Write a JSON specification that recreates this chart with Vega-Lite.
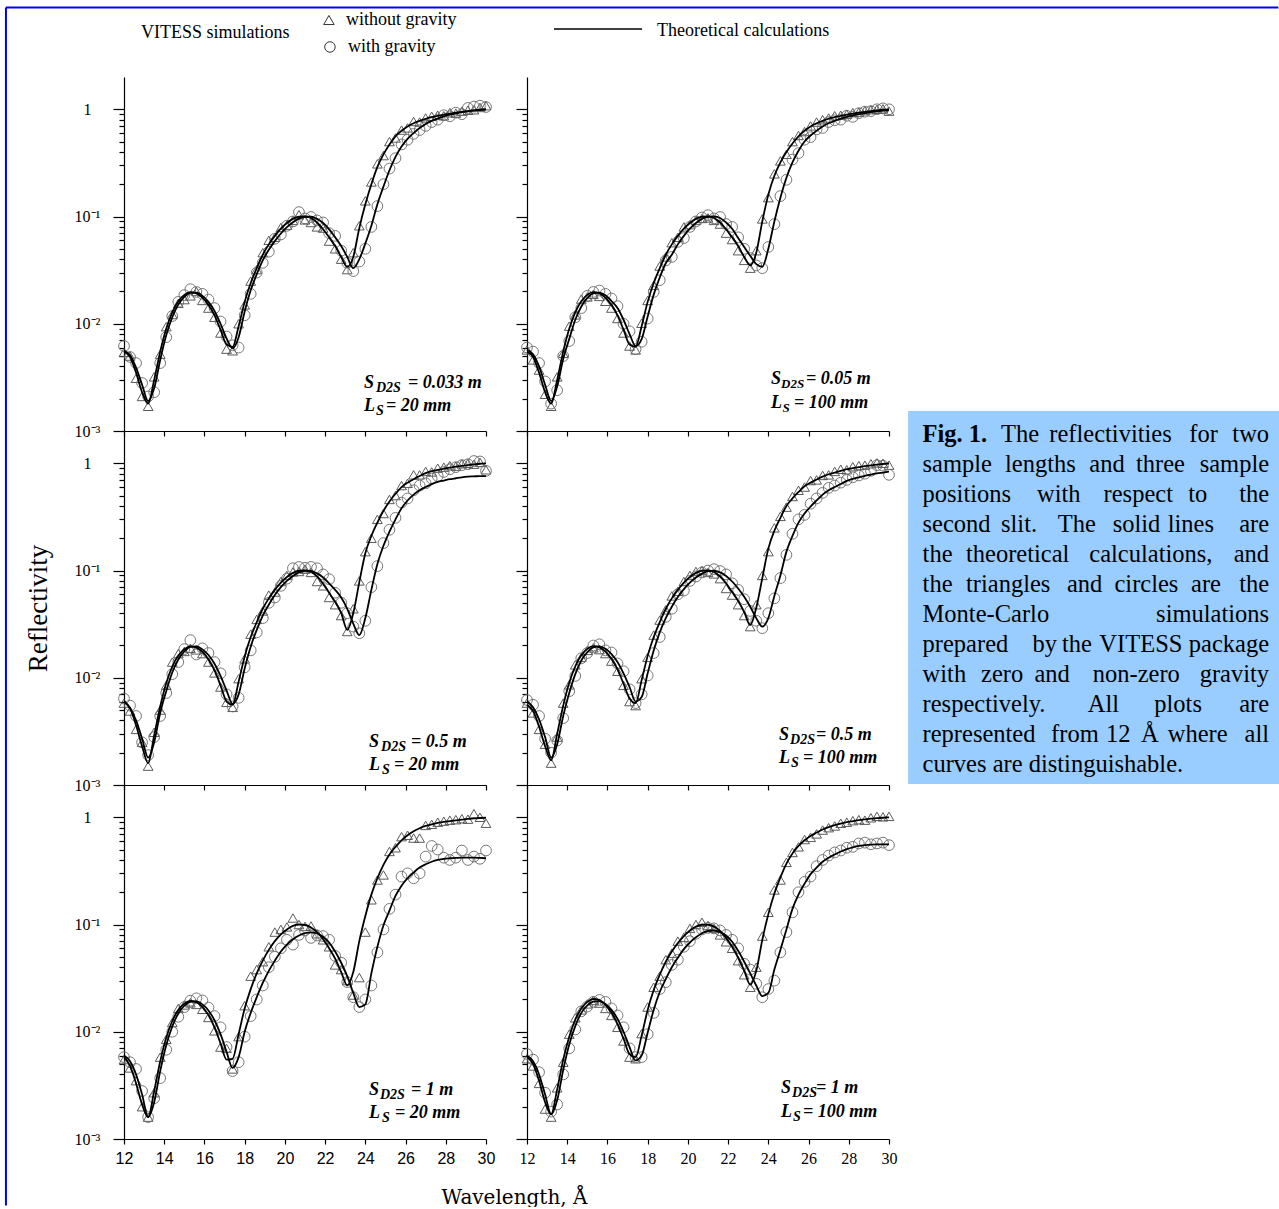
{
"$schema": "https://vega.github.io/schema/vega-lite/v6.json",
"padding": {"left": 4, "top": 6, "right": 0, "bottom": 0},
"background": "white",
"bounds": "flush",
"columns": 2,
"spacing": {"row": 0, "column": 41},
"config": {
  "view": {"stroke": null},
  "font": "Liberation Serif",
  "axis": {"domainColor": "black", "tickColor": "black", "labelColor": "black", "titleColor": "black", "grid": false, "domainWidth": 1.2, "tickWidth": 1.2, "titleFontWeight": "normal", "labelFont": "Liberation Serif", "labelFlush": false, "labelOverlap": false},
  "text": {"font": "Liberation Serif", "color": "black"}
},
"datasets": {
"p1": [
{"x":12.0,"a":0.0055,"b":0.0056,"t":0.0054,"c":0.0062},
{"x":12.3,"a":0.0049,"b":0.0051,"t":0.0050,"c":0.0049},
{"x":12.6,"a":0.0035,"b":0.0039,"t":0.0031,"c":0.0043},
{"x":12.9,"a":0.0023,"b":0.0027,"t":0.0021,"c":0.0028},
{"x":13.2,"a":0.0018,"b":0.0019,"t":0.0017,"c":0.0021},
{"x":13.5,"a":0.0030,"b":0.0025,"t":0.0032,"c":0.0023},
{"x":13.8,"a":0.0055,"b":0.0046,"t":0.0052,"c":0.0043},
{"x":14.1,"a":0.0090,"b":0.0078,"t":0.0094,"c":0.0075},
{"x":14.4,"a":0.0128,"b":0.0115,"t":0.0122,"c":0.0118},
{"x":14.7,"a":0.0162,"b":0.0151,"t":0.0155,"c":0.0160},
{"x":15.0,"a":0.0186,"b":0.0178,"t":0.0168,"c":0.0185},
{"x":15.3,"a":0.0197,"b":0.0194,"t":0.0182,"c":0.0210},
{"x":15.6,"a":0.0192,"b":0.0195,"t":0.0200,"c":0.0198},
{"x":15.9,"a":0.0175,"b":0.0182,"t":0.0165,"c":0.0190},
{"x":16.2,"a":0.0150,"b":0.0160,"t":0.0140,"c":0.0168},
{"x":16.5,"a":0.0120,"b":0.0132,"t":0.0115,"c":0.0140},
{"x":16.8,"a":0.0088,"b":0.0100,"t":0.0082,"c":0.0105},
{"x":17.1,"a":0.0064,"b":0.0073,"t":0.0058,"c":0.0076},
{"x":17.4,"a":0.0061,"b":0.0059,"t":0.0056,"c":0.0063},
{"x":17.7,"a":0.0095,"b":0.0075,"t":0.0100,"c":0.0060},
{"x":18.0,"a":0.0160,"b":0.0130,"t":0.0150,"c":0.0120},
{"x":18.3,"a":0.0240,"b":0.0205,"t":0.0250,"c":0.0190},
{"x":18.6,"a":0.0330,"b":0.0290,"t":0.0320,"c":0.0300},
{"x":18.9,"a":0.0440,"b":0.0390,"t":0.0460,"c":0.0370},
{"x":19.2,"a":0.0550,"b":0.0490,"t":0.0600,"c":0.0470},
{"x":19.5,"a":0.0660,"b":0.0590,"t":0.0640,"c":0.0620},
{"x":19.8,"a":0.0770,"b":0.0695,"t":0.0790,"c":0.0680},
{"x":20.1,"a":0.0870,"b":0.0795,"t":0.0830,"c":0.0820},
{"x":20.4,"a":0.0950,"b":0.0885,"t":0.0920,"c":0.0900},
{"x":20.7,"a":0.0995,"b":0.0955,"t":0.1040,"c":0.1100},
{"x":21.0,"a":0.1000,"b":0.0995,"t":0.0930,"c":0.0960},
{"x":21.3,"a":0.0970,"b":0.0995,"t":0.0880,"c":0.0990},
{"x":21.6,"a":0.0880,"b":0.0950,"t":0.0800,"c":0.0920},
{"x":21.9,"a":0.0760,"b":0.0870,"t":0.0780,"c":0.0880},
{"x":22.2,"a":0.0640,"b":0.0760,"t":0.0590,"c":0.0700},
{"x":22.5,"a":0.0530,"b":0.0640,"t":0.0500,"c":0.0660},
{"x":22.8,"a":0.0420,"b":0.0530,"t":0.0400,"c":0.0480},
{"x":23.1,"a":0.0340,"b":0.0420,"t":0.0320,"c":0.0370},
{"x":23.4,"a":0.0420,"b":0.0330,"t":0.0460,"c":0.0310},
{"x":23.7,"a":0.0780,"b":0.0400,"t":0.0820,"c":0.0380},
{"x":24.0,"a":0.130,"b":0.056,"t":0.140,"c":0.050},
{"x":24.3,"a":0.200,"b":0.082,"t":0.210,"c":0.080},
{"x":24.6,"a":0.290,"b":0.130,"t":0.310,"c":0.125},
{"x":24.9,"a":0.380,"b":0.190,"t":0.370,"c":0.200},
{"x":25.2,"a":0.470,"b":0.270,"t":0.500,"c":0.280},
{"x":25.5,"a":0.560,"b":0.360,"t":0.540,"c":0.350},
{"x":25.8,"a":0.630,"b":0.450,"t":0.640,"c":0.470},
{"x":26.1,"a":0.690,"b":0.530,"t":0.670,"c":0.520},
{"x":26.4,"a":0.740,"b":0.600,"t":0.770,"c":0.590},
{"x":26.7,"a":0.780,"b":0.670,"t":0.760,"c":0.640},
{"x":27.0,"a":0.815,"b":0.730,"t":0.830,"c":0.700},
{"x":27.3,"a":0.845,"b":0.780,"t":0.860,"c":0.760},
{"x":27.6,"a":0.870,"b":0.820,"t":0.880,"c":0.800},
{"x":27.9,"a":0.890,"b":0.860,"t":0.870,"c":0.880},
{"x":28.2,"a":0.910,"b":0.890,"t":0.930,"c":0.860},
{"x":28.5,"a":0.930,"b":0.915,"t":0.920,"c":0.930},
{"x":28.8,"a":0.945,"b":0.940,"t":0.960,"c":0.900},
{"x":29.1,"a":0.960,"b":0.960,"t":0.980,"c":1.030},
{"x":29.4,"a":0.975,"b":0.975,"t":0.990,"c":1.060},
{"x":29.7,"a":0.990,"b":0.990,"t":1.040,"c":1.080},
{"x":30.0,"a":1.000,"b":1.000,"t":1.080,"c":1.050}
],
"p2": [
{"x":12.0,"a":0.0055,"b":0.0057,"t":0.0057,"c":0.0060},
{"x":12.3,"a":0.0049,"b":0.0052,"t":0.0046,"c":0.0055},
{"x":12.6,"a":0.0035,"b":0.0040,"t":0.0037,"c":0.0043},
{"x":12.9,"a":0.0023,"b":0.0027,"t":0.0022,"c":0.0029},
{"x":13.2,"a":0.0018,"b":0.0019,"t":0.0017,"c":0.0018},
{"x":13.5,"a":0.0030,"b":0.0026,"t":0.0032,"c":0.0024},
{"x":13.8,"a":0.0055,"b":0.0047,"t":0.0053,"c":0.0050},
{"x":14.1,"a":0.0090,"b":0.0072,"t":0.0095,"c":0.0069},
{"x":14.4,"a":0.0128,"b":0.0109,"t":0.0121,"c":0.0115},
{"x":14.7,"a":0.0162,"b":0.0145,"t":0.0170,"c":0.0140},
{"x":15.0,"a":0.0186,"b":0.0174,"t":0.0178,"c":0.0182},
{"x":15.3,"a":0.0197,"b":0.0192,"t":0.0188,"c":0.0198},
{"x":15.6,"a":0.0192,"b":0.0195,"t":0.0180,"c":0.0204},
{"x":15.9,"a":0.0175,"b":0.0184,"t":0.0162,"c":0.0190},
{"x":16.2,"a":0.0150,"b":0.0163,"t":0.0140,"c":0.0172},
{"x":16.5,"a":0.0120,"b":0.0140,"t":0.0112,"c":0.0146},
{"x":16.8,"a":0.0088,"b":0.0109,"t":0.0082,"c":0.0100},
{"x":17.1,"a":0.0064,"b":0.0080,"t":0.0062,"c":0.0085},
{"x":17.4,"a":0.0061,"b":0.0062,"t":0.0057,"c":0.0058},
{"x":17.7,"a":0.0095,"b":0.0072,"t":0.0101,"c":0.0068},
{"x":18.0,"a":0.0160,"b":0.0117,"t":0.0165,"c":0.0112},
{"x":18.3,"a":0.0240,"b":0.0187,"t":0.0228,"c":0.0198},
{"x":18.6,"a":0.0330,"b":0.0270,"t":0.0345,"c":0.0255},
{"x":18.9,"a":0.0440,"b":0.0367,"t":0.0420,"c":0.0390},
{"x":19.2,"a":0.0550,"b":0.0440,"t":0.0570,"c":0.0420},
{"x":19.5,"a":0.0660,"b":0.0550,"t":0.0640,"c":0.0580},
{"x":19.8,"a":0.0770,"b":0.0660,"t":0.0800,"c":0.0630},
{"x":20.1,"a":0.0870,"b":0.0770,"t":0.0840,"c":0.0800},
{"x":20.4,"a":0.0950,"b":0.0870,"t":0.0920,"c":0.0900},
{"x":20.7,"a":0.0995,"b":0.0950,"t":0.0960,"c":0.0980},
{"x":21.0,"a":0.1000,"b":0.0995,"t":0.0970,"c":0.1030},
{"x":21.3,"a":0.0970,"b":0.1000,"t":0.0920,"c":0.0960},
{"x":21.6,"a":0.0880,"b":0.0970,"t":0.0850,"c":0.0990},
{"x":21.9,"a":0.0760,"b":0.0880,"t":0.0700,"c":0.0850},
{"x":22.2,"a":0.0640,"b":0.0770,"t":0.0610,"c":0.0800},
{"x":22.5,"a":0.0530,"b":0.0630,"t":0.0480,"c":0.0640},
{"x":22.8,"a":0.0420,"b":0.0520,"t":0.0390,"c":0.0500},
{"x":23.1,"a":0.0350,"b":0.0430,"t":0.0330,"c":0.0410},
{"x":23.4,"a":0.0460,"b":0.0360,"t":0.0480,"c":0.0350},
{"x":23.7,"a":0.0900,"b":0.0340,"t":0.0950,"c":0.0330},
{"x":24.0,"a":0.160,"b":0.050,"t":0.150,"c":0.052},
{"x":24.3,"a":0.240,"b":0.090,"t":0.250,"c":0.085},
{"x":24.6,"a":0.320,"b":0.150,"t":0.330,"c":0.155},
{"x":24.9,"a":0.400,"b":0.230,"t":0.380,"c":0.220},
{"x":25.2,"a":0.480,"b":0.320,"t":0.500,"c":0.340},
{"x":25.5,"a":0.560,"b":0.410,"t":0.570,"c":0.390},
{"x":25.8,"a":0.630,"b":0.500,"t":0.620,"c":0.520},
{"x":26.1,"a":0.690,"b":0.570,"t":0.700,"c":0.550},
{"x":26.4,"a":0.740,"b":0.630,"t":0.760,"c":0.650},
{"x":26.7,"a":0.780,"b":0.690,"t":0.800,"c":0.670},
{"x":27.0,"a":0.820,"b":0.740,"t":0.830,"c":0.760},
{"x":27.3,"a":0.845,"b":0.780,"t":0.870,"c":0.790},
{"x":27.6,"a":0.870,"b":0.820,"t":0.880,"c":0.800},
{"x":27.9,"a":0.890,"b":0.850,"t":0.900,"c":0.870},
{"x":28.2,"a":0.910,"b":0.875,"t":0.930,"c":0.850},
{"x":28.5,"a":0.930,"b":0.900,"t":0.940,"c":0.920},
{"x":28.8,"a":0.945,"b":0.920,"t":0.970,"c":0.950},
{"x":29.1,"a":0.960,"b":0.940,"t":0.990,"c":0.960},
{"x":29.4,"a":0.975,"b":0.955,"t":1.000,"c":1.000},
{"x":29.7,"a":0.990,"b":0.970,"t":1.010,"c":1.020},
{"x":30.0,"a":1.000,"b":0.980,"t":0.960,"c":1.000}
],
"p3": [
{"x":12.0,"a":0.0060,"b":0.0060,"t":0.0058,"c":0.0064},
{"x":12.3,"a":0.0052,"b":0.0052,"t":0.0049,"c":0.0055},
{"x":12.6,"a":0.0036,"b":0.0040,"t":0.0033,"c":0.0044},
{"x":12.9,"a":0.0023,"b":0.0027,"t":0.0025,"c":0.0025},
{"x":13.2,"a":0.0016,"b":0.0018,"t":0.0015,"c":0.0019},
{"x":13.5,"a":0.0029,"b":0.0025,"t":0.0031,"c":0.0028},
{"x":13.8,"a":0.0054,"b":0.0047,"t":0.0050,"c":0.0044},
{"x":14.1,"a":0.0089,"b":0.0075,"t":0.0085,"c":0.0072},
{"x":14.4,"a":0.0127,"b":0.0112,"t":0.0140,"c":0.0108},
{"x":14.7,"a":0.0161,"b":0.0148,"t":0.0168,"c":0.0140},
{"x":15.0,"a":0.0185,"b":0.0176,"t":0.0176,"c":0.0185},
{"x":15.3,"a":0.0196,"b":0.0194,"t":0.0188,"c":0.0224},
{"x":15.6,"a":0.0191,"b":0.0196,"t":0.0182,"c":0.0165},
{"x":15.9,"a":0.0174,"b":0.0184,"t":0.0168,"c":0.0188},
{"x":16.2,"a":0.0148,"b":0.0163,"t":0.0140,"c":0.0170},
{"x":16.5,"a":0.0117,"b":0.0135,"t":0.0111,"c":0.0140},
{"x":16.8,"a":0.0085,"b":0.0104,"t":0.0082,"c":0.0110},
{"x":17.1,"a":0.0060,"b":0.0076,"t":0.0059,"c":0.0070},
{"x":17.4,"a":0.0056,"b":0.0057,"t":0.0053,"c":0.0054},
{"x":17.7,"a":0.0092,"b":0.0070,"t":0.0098,"c":0.0065},
{"x":18.0,"a":0.0158,"b":0.0122,"t":0.0150,"c":0.0125},
{"x":18.3,"a":0.0240,"b":0.0195,"t":0.0255,"c":0.0180},
{"x":18.6,"a":0.0330,"b":0.0280,"t":0.0350,"c":0.0265},
{"x":18.9,"a":0.0440,"b":0.0380,"t":0.0420,"c":0.0360},
{"x":19.2,"a":0.0550,"b":0.0480,"t":0.0590,"c":0.0500},
{"x":19.5,"a":0.0660,"b":0.0590,"t":0.0630,"c":0.0560},
{"x":19.8,"a":0.0770,"b":0.0700,"t":0.0790,"c":0.0720},
{"x":20.1,"a":0.0870,"b":0.0800,"t":0.0900,"c":0.0840},
{"x":20.4,"a":0.0950,"b":0.0890,"t":0.0970,"c":0.1050},
{"x":20.7,"a":0.0995,"b":0.0960,"t":0.0980,"c":0.1080},
{"x":21.0,"a":0.1000,"b":0.0995,"t":0.1030,"c":0.1060},
{"x":21.3,"a":0.0970,"b":0.0990,"t":0.0960,"c":0.1080},
{"x":21.6,"a":0.0880,"b":0.0940,"t":0.0790,"c":0.1050},
{"x":21.9,"a":0.0750,"b":0.0860,"t":0.0720,"c":0.0920},
{"x":22.2,"a":0.0620,"b":0.0760,"t":0.0560,"c":0.0830},
{"x":22.5,"a":0.0510,"b":0.0660,"t":0.0480,"c":0.0620},
{"x":22.8,"a":0.0400,"b":0.0560,"t":0.0380,"c":0.0500},
{"x":23.1,"a":0.0280,"b":0.0440,"t":0.0270,"c":0.0400},
{"x":23.4,"a":0.0400,"b":0.0320,"t":0.0440,"c":0.0300},
{"x":23.7,"a":0.0780,"b":0.0250,"t":0.0800,"c":0.0260},
{"x":24.0,"a":0.145,"b":0.036,"t":0.150,"c":0.034},
{"x":24.3,"a":0.210,"b":0.066,"t":0.200,"c":0.070},
{"x":24.6,"a":0.280,"b":0.115,"t":0.300,"c":0.110},
{"x":24.9,"a":0.360,"b":0.170,"t":0.340,"c":0.180},
{"x":25.2,"a":0.440,"b":0.230,"t":0.460,"c":0.240},
{"x":25.5,"a":0.520,"b":0.300,"t":0.500,"c":0.310},
{"x":25.8,"a":0.600,"b":0.380,"t":0.620,"c":0.430},
{"x":26.1,"a":0.660,"b":0.450,"t":0.650,"c":0.470},
{"x":26.4,"a":0.710,"b":0.510,"t":0.780,"c":0.560},
{"x":26.7,"a":0.760,"b":0.560,"t":0.780,"c":0.620},
{"x":27.0,"a":0.810,"b":0.600,"t":0.840,"c":0.650},
{"x":27.3,"a":0.845,"b":0.640,"t":0.830,"c":0.720},
{"x":27.6,"a":0.870,"b":0.670,"t":0.900,"c":0.760},
{"x":27.9,"a":0.890,"b":0.690,"t":0.920,"c":0.830},
{"x":28.2,"a":0.910,"b":0.710,"t":0.950,"c":0.880},
{"x":28.5,"a":0.930,"b":0.725,"t":0.940,"c":0.920},
{"x":28.8,"a":0.945,"b":0.740,"t":0.990,"c":0.960},
{"x":29.1,"a":0.960,"b":0.750,"t":1.000,"c":0.980},
{"x":29.4,"a":0.975,"b":0.755,"t":0.980,"c":1.050},
{"x":29.7,"a":0.990,"b":0.760,"t":1.020,"c":1.040},
{"x":30.0,"a":1.000,"b":0.760,"t":0.870,"c":0.850}
],
"p4": [
{"x":12.0,"a":0.0056,"b":0.0060,"t":0.0058,"c":0.0062},
{"x":12.3,"a":0.0049,"b":0.0053,"t":0.0047,"c":0.0056},
{"x":12.6,"a":0.0035,"b":0.0041,"t":0.0033,"c":0.0044},
{"x":12.9,"a":0.0023,"b":0.0028,"t":0.0024,"c":0.0027},
{"x":13.2,"a":0.0017,"b":0.0018,"t":0.0016,"c":0.0020},
{"x":13.5,"a":0.0030,"b":0.0024,"t":0.0028,"c":0.0026},
{"x":13.8,"a":0.0055,"b":0.0044,"t":0.0058,"c":0.0042},
{"x":14.1,"a":0.0090,"b":0.0072,"t":0.0086,"c":0.0075},
{"x":14.4,"a":0.0128,"b":0.0108,"t":0.0132,"c":0.0104},
{"x":14.7,"a":0.0162,"b":0.0145,"t":0.0155,"c":0.0152},
{"x":15.0,"a":0.0186,"b":0.0173,"t":0.0180,"c":0.0170},
{"x":15.3,"a":0.0197,"b":0.0192,"t":0.0190,"c":0.0200},
{"x":15.6,"a":0.0192,"b":0.0196,"t":0.0183,"c":0.0205},
{"x":15.9,"a":0.0175,"b":0.0186,"t":0.0168,"c":0.0180},
{"x":16.2,"a":0.0150,"b":0.0166,"t":0.0143,"c":0.0172},
{"x":16.5,"a":0.0120,"b":0.0140,"t":0.0115,"c":0.0136},
{"x":16.8,"a":0.0088,"b":0.0110,"t":0.0085,"c":0.0115},
{"x":17.1,"a":0.0064,"b":0.0082,"t":0.0060,"c":0.0078},
{"x":17.4,"a":0.0058,"b":0.0060,"t":0.0055,"c":0.0058},
{"x":17.7,"a":0.0095,"b":0.0066,"t":0.0098,"c":0.0070},
{"x":18.0,"a":0.0160,"b":0.0110,"t":0.0155,"c":0.0105},
{"x":18.3,"a":0.0240,"b":0.0180,"t":0.0250,"c":0.0170},
{"x":18.6,"a":0.0330,"b":0.0265,"t":0.0345,"c":0.0240},
{"x":18.9,"a":0.0440,"b":0.0360,"t":0.0430,"c":0.0370},
{"x":19.2,"a":0.0550,"b":0.0460,"t":0.0580,"c":0.0440},
{"x":19.5,"a":0.0660,"b":0.0565,"t":0.0640,"c":0.0600},
{"x":19.8,"a":0.0770,"b":0.0670,"t":0.0790,"c":0.0650},
{"x":20.1,"a":0.0870,"b":0.0770,"t":0.0900,"c":0.0800},
{"x":20.4,"a":0.0950,"b":0.0860,"t":0.0980,"c":0.0880},
{"x":20.7,"a":0.0995,"b":0.0935,"t":0.1000,"c":0.0960},
{"x":21.0,"a":0.1000,"b":0.0985,"t":0.0960,"c":0.1000},
{"x":21.3,"a":0.0970,"b":0.0995,"t":0.0930,"c":0.1030},
{"x":21.6,"a":0.0880,"b":0.0960,"t":0.0840,"c":0.0990},
{"x":21.9,"a":0.0760,"b":0.0890,"t":0.0680,"c":0.0920},
{"x":22.2,"a":0.0630,"b":0.0790,"t":0.0590,"c":0.0760},
{"x":22.5,"a":0.0520,"b":0.0680,"t":0.0480,"c":0.0660},
{"x":22.8,"a":0.0410,"b":0.0570,"t":0.0380,"c":0.0540},
{"x":23.1,"a":0.0310,"b":0.0460,"t":0.0300,"c":0.0420},
{"x":23.4,"a":0.0450,"b":0.0360,"t":0.0480,"c":0.0340},
{"x":23.7,"a":0.0850,"b":0.0300,"t":0.0900,"c":0.0290},
{"x":24.0,"a":0.160,"b":0.036,"t":0.150,"c":0.040},
{"x":24.3,"a":0.235,"b":0.058,"t":0.250,"c":0.055},
{"x":24.6,"a":0.310,"b":0.090,"t":0.320,"c":0.085},
{"x":24.9,"a":0.400,"b":0.150,"t":0.390,"c":0.140},
{"x":25.2,"a":0.470,"b":0.210,"t":0.490,"c":0.220},
{"x":25.5,"a":0.540,"b":0.280,"t":0.560,"c":0.300},
{"x":25.8,"a":0.610,"b":0.340,"t":0.600,"c":0.330},
{"x":26.1,"a":0.660,"b":0.395,"t":0.690,"c":0.420},
{"x":26.4,"a":0.705,"b":0.450,"t":0.700,"c":0.470},
{"x":26.7,"a":0.750,"b":0.510,"t":0.770,"c":0.530},
{"x":27.0,"a":0.790,"b":0.560,"t":0.780,"c":0.590},
{"x":27.3,"a":0.820,"b":0.600,"t":0.840,"c":0.620},
{"x":27.6,"a":0.850,"b":0.640,"t":0.880,"c":0.660},
{"x":27.9,"a":0.880,"b":0.685,"t":0.870,"c":0.700},
{"x":28.2,"a":0.900,"b":0.715,"t":0.930,"c":0.740},
{"x":28.5,"a":0.920,"b":0.740,"t":0.950,"c":0.770},
{"x":28.8,"a":0.940,"b":0.765,"t":0.960,"c":0.800},
{"x":29.1,"a":0.955,"b":0.785,"t":0.990,"c":0.850},
{"x":29.4,"a":0.970,"b":0.805,"t":1.010,"c":0.960},
{"x":29.7,"a":0.985,"b":0.820,"t":1.000,"c":0.950},
{"x":30.0,"a":1.000,"b":0.836,"t":0.960,"c":0.780}
],
"p5": [
{"x":12.0,"a":0.0058,"b":0.0060,"t":0.0055,"c":0.0058},
{"x":12.3,"a":0.0048,"b":0.0053,"t":0.0046,"c":0.0052},
{"x":12.6,"a":0.0033,"b":0.0040,"t":0.0035,"c":0.0045},
{"x":12.9,"a":0.0021,"b":0.0026,"t":0.0020,"c":0.0028},
{"x":13.2,"a":0.0016,"b":0.0016,"t":0.0016,"c":0.0016},
{"x":13.5,"a":0.0028,"b":0.0022,"t":0.0027,"c":0.0024},
{"x":13.8,"a":0.0053,"b":0.0043,"t":0.0058,"c":0.0037},
{"x":14.1,"a":0.0088,"b":0.0075,"t":0.0085,"c":0.0068},
{"x":14.4,"a":0.0126,"b":0.0112,"t":0.0122,"c":0.0100},
{"x":14.7,"a":0.0160,"b":0.0148,"t":0.0165,"c":0.0138},
{"x":15.0,"a":0.0183,"b":0.0175,"t":0.0178,"c":0.0170},
{"x":15.3,"a":0.0194,"b":0.0190,"t":0.0186,"c":0.0195},
{"x":15.6,"a":0.0189,"b":0.0192,"t":0.0180,"c":0.0205},
{"x":15.9,"a":0.0170,"b":0.0180,"t":0.0162,"c":0.0196},
{"x":16.2,"a":0.0143,"b":0.0158,"t":0.0136,"c":0.0168},
{"x":16.5,"a":0.0110,"b":0.0128,"t":0.0102,"c":0.0140},
{"x":16.8,"a":0.0078,"b":0.0095,"t":0.0072,"c":0.0110},
{"x":17.1,"a":0.0055,"b":0.0065,"t":0.0070,"c":0.0072},
{"x":17.4,"a":0.0056,"b":0.0046,"t":0.0045,"c":0.0043},
{"x":17.7,"a":0.0095,"b":0.0058,"t":0.0090,"c":0.0052},
{"x":18.0,"a":0.0165,"b":0.0100,"t":0.0175,"c":0.0090},
{"x":18.3,"a":0.0250,"b":0.0150,"t":0.0330,"c":0.0140},
{"x":18.6,"a":0.0350,"b":0.0210,"t":0.0380,"c":0.0200},
{"x":18.9,"a":0.0460,"b":0.0285,"t":0.0450,"c":0.0270},
{"x":19.2,"a":0.0580,"b":0.0370,"t":0.0620,"c":0.0400},
{"x":19.5,"a":0.0700,"b":0.0460,"t":0.0850,"c":0.0500},
{"x":19.8,"a":0.0810,"b":0.0560,"t":0.0900,"c":0.0600},
{"x":20.1,"a":0.0900,"b":0.0650,"t":0.0950,"c":0.0720},
{"x":20.4,"a":0.0970,"b":0.0730,"t":0.1150,"c":0.0650},
{"x":20.7,"a":0.1000,"b":0.0790,"t":0.1000,"c":0.0800},
{"x":21.0,"a":0.0990,"b":0.0830,"t":0.0960,"c":0.0880},
{"x":21.3,"a":0.0940,"b":0.0845,"t":0.0970,"c":0.0750},
{"x":21.6,"a":0.0850,"b":0.0825,"t":0.0820,"c":0.0790},
{"x":21.9,"a":0.0730,"b":0.0770,"t":0.0720,"c":0.0780},
{"x":22.2,"a":0.0600,"b":0.0680,"t":0.0620,"c":0.0720},
{"x":22.5,"a":0.0480,"b":0.0560,"t":0.0420,"c":0.0510},
{"x":22.8,"a":0.0360,"b":0.0440,"t":0.0380,"c":0.0440},
{"x":23.1,"a":0.0270,"b":0.0330,"t":0.0300,"c":0.0290},
{"x":23.4,"a":0.0360,"b":0.0230,"t":0.0220,"c":0.0210},
{"x":23.7,"a":0.0700,"b":0.0170,"t":0.0320,"c":0.0170},
{"x":24.0,"a":0.120,"b":0.018,"t":0.085,"c":0.020},
{"x":24.3,"a":0.190,"b":0.035,"t":0.170,"c":0.027},
{"x":24.6,"a":0.270,"b":0.062,"t":0.260,"c":0.055},
{"x":24.9,"a":0.360,"b":0.098,"t":0.290,"c":0.090},
{"x":25.2,"a":0.450,"b":0.135,"t":0.480,"c":0.140},
{"x":25.5,"a":0.530,"b":0.185,"t":0.520,"c":0.190},
{"x":25.8,"a":0.610,"b":0.230,"t":0.660,"c":0.280},
{"x":26.1,"a":0.680,"b":0.270,"t":0.680,"c":0.300},
{"x":26.4,"a":0.740,"b":0.305,"t":0.640,"c":0.270},
{"x":26.7,"a":0.790,"b":0.340,"t":0.640,"c":0.300},
{"x":27.0,"a":0.830,"b":0.365,"t":0.840,"c":0.430},
{"x":27.3,"a":0.860,"b":0.385,"t":0.860,"c":0.540},
{"x":27.6,"a":0.885,"b":0.400,"t":0.900,"c":0.500},
{"x":27.9,"a":0.905,"b":0.410,"t":0.920,"c":0.420},
{"x":28.2,"a":0.920,"b":0.415,"t":0.940,"c":0.400},
{"x":28.5,"a":0.935,"b":0.418,"t":0.950,"c":0.420},
{"x":28.8,"a":0.950,"b":0.420,"t":0.970,"c":0.490},
{"x":29.1,"a":0.965,"b":0.420,"t":0.960,"c":0.400},
{"x":29.4,"a":0.975,"b":0.420,"t":1.080,"c":0.430},
{"x":29.7,"a":0.985,"b":0.418,"t":1.000,"c":0.410},
{"x":30.0,"a":0.990,"b":0.415,"t":0.880,"c":0.490}
],
"p6": [
{"x":12.0,"a":0.0058,"b":0.0060,"t":0.0056,"c":0.0062},
{"x":12.3,"a":0.0050,"b":0.0053,"t":0.0048,"c":0.0055},
{"x":12.6,"a":0.0035,"b":0.0040,"t":0.0033,"c":0.0042},
{"x":12.9,"a":0.0022,"b":0.0026,"t":0.0019,"c":0.0027},
{"x":13.2,"a":0.0017,"b":0.0017,"t":0.0016,"c":0.0018},
{"x":13.5,"a":0.0029,"b":0.0023,"t":0.0030,"c":0.0021},
{"x":13.8,"a":0.0055,"b":0.0044,"t":0.0052,"c":0.0040},
{"x":14.1,"a":0.0090,"b":0.0076,"t":0.0095,"c":0.0070},
{"x":14.4,"a":0.0130,"b":0.0113,"t":0.0135,"c":0.0105},
{"x":14.7,"a":0.0165,"b":0.0150,"t":0.0160,"c":0.0155},
{"x":15.0,"a":0.0190,"b":0.0176,"t":0.0182,"c":0.0172},
{"x":15.3,"a":0.0202,"b":0.0191,"t":0.0196,"c":0.0190},
{"x":15.6,"a":0.0197,"b":0.0193,"t":0.0185,"c":0.0198},
{"x":15.9,"a":0.0178,"b":0.0182,"t":0.0165,"c":0.0190},
{"x":16.2,"a":0.0150,"b":0.0160,"t":0.0142,"c":0.0165},
{"x":16.5,"a":0.0118,"b":0.0132,"t":0.0110,"c":0.0142},
{"x":16.8,"a":0.0086,"b":0.0100,"t":0.0082,"c":0.0110},
{"x":17.1,"a":0.0062,"b":0.0072,"t":0.0058,"c":0.0070},
{"x":17.4,"a":0.0058,"b":0.0054,"t":0.0056,"c":0.0058},
{"x":17.7,"a":0.0092,"b":0.0060,"t":0.0096,"c":0.0058},
{"x":18.0,"a":0.0160,"b":0.0098,"t":0.0170,"c":0.0095},
{"x":18.3,"a":0.0245,"b":0.0160,"t":0.0260,"c":0.0150},
{"x":18.6,"a":0.0340,"b":0.0235,"t":0.0330,"c":0.0250},
{"x":18.9,"a":0.0450,"b":0.0310,"t":0.0470,"c":0.0290},
{"x":19.2,"a":0.0560,"b":0.0400,"t":0.0540,"c":0.0420},
{"x":19.5,"a":0.0670,"b":0.0490,"t":0.0700,"c":0.0470},
{"x":19.8,"a":0.0780,"b":0.0590,"t":0.0760,"c":0.0620},
{"x":20.1,"a":0.0880,"b":0.0680,"t":0.0920,"c":0.0700},
{"x":20.4,"a":0.0955,"b":0.0760,"t":0.1000,"c":0.0820},
{"x":20.7,"a":0.0995,"b":0.0830,"t":0.1050,"c":0.0900},
{"x":21.0,"a":0.0995,"b":0.0870,"t":0.0980,"c":0.0930},
{"x":21.3,"a":0.0955,"b":0.0880,"t":0.0920,"c":0.0920},
{"x":21.6,"a":0.0870,"b":0.0850,"t":0.0800,"c":0.0880},
{"x":21.9,"a":0.0750,"b":0.0790,"t":0.0690,"c":0.0800},
{"x":22.2,"a":0.0620,"b":0.0690,"t":0.0600,"c":0.0720},
{"x":22.5,"a":0.0490,"b":0.0570,"t":0.0460,"c":0.0600},
{"x":22.8,"a":0.0370,"b":0.0450,"t":0.0340,"c":0.0430},
{"x":23.1,"a":0.0275,"b":0.0350,"t":0.0260,"c":0.0380},
{"x":23.4,"a":0.0370,"b":0.0270,"t":0.0400,"c":0.0280},
{"x":23.7,"a":0.0720,"b":0.0215,"t":0.0780,"c":0.0210},
{"x":24.0,"a":0.125,"b":0.023,"t":0.130,"c":0.025},
{"x":24.3,"a":0.195,"b":0.038,"t":0.210,"c":0.030},
{"x":24.6,"a":0.275,"b":0.058,"t":0.260,"c":0.055},
{"x":24.9,"a":0.370,"b":0.090,"t":0.380,"c":0.085},
{"x":25.2,"a":0.460,"b":0.140,"t":0.470,"c":0.130},
{"x":25.5,"a":0.540,"b":0.190,"t":0.530,"c":0.200},
{"x":25.8,"a":0.610,"b":0.240,"t":0.620,"c":0.250},
{"x":26.1,"a":0.670,"b":0.295,"t":0.650,"c":0.280},
{"x":26.4,"a":0.720,"b":0.340,"t":0.700,"c":0.350},
{"x":26.7,"a":0.770,"b":0.385,"t":0.760,"c":0.400},
{"x":27.0,"a":0.810,"b":0.420,"t":0.800,"c":0.440},
{"x":27.3,"a":0.845,"b":0.450,"t":0.830,"c":0.470},
{"x":27.6,"a":0.875,"b":0.480,"t":0.880,"c":0.490},
{"x":27.9,"a":0.900,"b":0.505,"t":0.900,"c":0.520},
{"x":28.2,"a":0.920,"b":0.525,"t":0.930,"c":0.530},
{"x":28.5,"a":0.940,"b":0.540,"t":0.950,"c":0.570},
{"x":28.8,"a":0.955,"b":0.550,"t":0.940,"c":0.580},
{"x":29.1,"a":0.970,"b":0.557,"t":0.990,"c":0.560},
{"x":29.4,"a":0.980,"b":0.560,"t":1.020,"c":0.570},
{"x":29.7,"a":0.990,"b":0.560,"t":1.010,"c":0.580},
{"x":30.0,"a":1.000,"b":0.560,"t":1.020,"c":0.550}
]
},
"concat": [
{
 "width": 362, "height": 354,
 "resolve": {"axis": {"y": "independent"}},
 "encoding": {"x": {"field": "x", "type": "quantitative", "scale": {"domain": [12, 30], "nice": false, "zero": false}, "axis": {"orient": "bottom", "values": [12,14,16,18,20,22,24,26,28,30], "labels": false, "tickSize": 5, "title": null}}},
 "layer": [
  {"data": {"name": "p1"}, "mark": {"type": "point", "shape": "triangle-up", "filled": false, "stroke": "#4a4a4a", "strokeWidth": 1, "size": 95, "opacity": 0.9},
   "encoding": {
    "y": {"field": "t", "type": "quantitative", "scale": {"type": "log", "domain": [0.001, 2], "nice": false}, "axis": {"orient": "left", "values": [0.001,0.01,0.1,1], "tickSize": 11, "labelExpr": "datum.value > 0.5 ? '1' : datum.value > 0.05 ? '10⁻¹' : datum.value > 0.005 ? '10⁻²' : '10⁻³'", "labelAlign": "center", "labelBaseline": "middle", "labelPadding": 26, "labelFontSize": 16, "title": null}}}},
  {"data": {"name": "p1"}, "mark": {"type": "point", "shape": "circle", "filled": false, "stroke": "#6a6a6a", "strokeWidth": 1, "size": 115, "opacity": 0.9},
   "encoding": {
    "y": {"field": "c", "type": "quantitative", "scale": {"type": "log", "domain": [0.001, 2], "nice": false}, "axis": {"orient": "left", "values": [0.002,0.003,0.004,0.005,0.006,0.007,0.008,0.009,0.02,0.03,0.04,0.05,0.06,0.07,0.08,0.09,0.2,0.3,0.4,0.5,0.6,0.7,0.8,0.9], "tickSize": 5, "labels": false, "domain": false, "title": null}}}},
  {"data": {"name": "p1"}, "mark": {"type": "line", "color": "black", "strokeWidth": 1.8, "interpolate": "monotone"},
   "encoding": {"y": {"field": "a", "type": "quantitative", "scale": {"type": "log", "domain": [0.001, 2], "nice": false}, "axis": null}}},
  {"data": {"name": "p1"}, "mark": {"type": "line", "color": "black", "strokeWidth": 1.8, "interpolate": "monotone"},
   "encoding": {"y": {"field": "b", "type": "quantitative", "scale": {"type": "log", "domain": [0.001, 2], "nice": false}, "axis": null}}},
  {"data": {"values": [{"x": 23.93, "y": 0.00281, "txt": "S"}, {"x": 26.12, "y": 0.00281, "txt": "= 0.033 m"}, {"x": 23.93, "y": 0.00171, "txt": "L"}, {"x": 25.03, "y": 0.00171, "txt": "= 20 mm"}]},
   "mark": {"type": "text", "align": "left", "baseline": "middle", "fontSize": 18, "fontStyle": "italic", "fontWeight": "bold"},
   "encoding": {
    "y": {"field": "y", "type": "quantitative", "scale": {"type": "log", "domain": [0.001, 2], "nice": false}, "axis": null},
    "text": {"field": "txt"}}},
  {"data": {"values": [{"x": 24.53, "y": 0.00281, "txt": "D2S"}, {"x": 24.53, "y": 0.00171, "txt": "S"}]},
   "mark": {"type": "text", "align": "left", "baseline": "middle", "fontSize": 14, "fontStyle": "italic", "fontWeight": "bold", "dy": 5},
   "encoding": {
    "y": {"field": "y", "type": "quantitative", "scale": {"type": "log", "domain": [0.001, 2], "nice": false}, "axis": null},
    "text": {"field": "txt"}}},
  {"data": {"values": [{"x": 12.85, "y": 5.14, "txt": "VITESS simulations"}, {"x": 23.04, "y": 6.80, "txt": "without gravity"}, {"x": 23.14, "y": 3.81, "txt": "with gravity"}, {"x": 38.5, "y": 5.37, "txt": "Theoretical calculations"}]},
   "mark": {"type": "text", "align": "left", "baseline": "middle", "fontSize": 18},
   "encoding": {
    "y": {"field": "y", "type": "quantitative", "scale": {"type": "log", "domain": [0.001, 2], "nice": false}, "axis": null},
    "text": {"field": "txt"}}},
  {"data": {"values": [{"x": 22.19, "y": 6.80, "sym": "triangle-up"}, {"x": 22.24, "y": 3.81, "sym": "circle"}]},
   "mark": {"type": "point", "filled": false, "stroke": "#333333", "strokeWidth": 1, "size": 110, "opacity": 1},
   "encoding": {
    "y": {"field": "y", "type": "quantitative", "scale": {"type": "log", "domain": [0.001, 2], "nice": false}, "axis": null},
    "shape": {"field": "sym", "type": "nominal", "scale": null}}},
  {"data": {"values": [{"x": 33.38, "x2": 37.76, "y": 5.61}]},
   "mark": {"type": "rule", "color": "black", "strokeWidth": 1.5},
   "encoding": {
    "x2": {"field": "x2"},
    "y": {"field": "y", "type": "quantitative", "scale": {"type": "log", "domain": [0.001, 2], "nice": false}, "axis": null}}},
  {"data": {"values": [{"x": 6.13, "x2": 6.13, "y": 8.89, "y2": 6e-11}, {"x": 6.13, "x2": 69.4, "y": 8.89, "y2": 8.89}]},
   "mark": {"type": "rule", "color": "#0000FF", "strokeWidth": 2},
   "encoding": {
    "x2": {"field": "x2"},
    "y": {"field": "y", "type": "quantitative", "scale": {"type": "log", "domain": [0.001, 2], "nice": false}, "axis": null},
    "y2": {"field": "y2"}}}
 ]
},
{
 "width": 362, "height": 354,
 "resolve": {"axis": {"y": "independent"}},
 "encoding": {"x": {"field": "x", "type": "quantitative", "scale": {"domain": [12, 30], "nice": false, "zero": false}, "axis": {"orient": "bottom", "values": [12,14,16,18,20,22,24,26,28,30], "labels": false, "tickSize": 5, "title": null}}},
 "layer": [
  {"data": {"name": "p2"}, "mark": {"type": "point", "shape": "triangle-up", "filled": false, "stroke": "#4a4a4a", "strokeWidth": 1, "size": 95, "opacity": 0.9},
   "encoding": {
    "y": {"field": "t", "type": "quantitative", "scale": {"type": "log", "domain": [0.001, 2], "nice": false}, "axis": {"orient": "left", "values": [0.001,0.01,0.1,1], "tickSize": 11, "labels": false, "title": null}}}},
  {"data": {"name": "p2"}, "mark": {"type": "point", "shape": "circle", "filled": false, "stroke": "#6a6a6a", "strokeWidth": 1, "size": 115, "opacity": 0.9},
   "encoding": {
    "y": {"field": "c", "type": "quantitative", "scale": {"type": "log", "domain": [0.001, 2], "nice": false}, "axis": {"orient": "left", "values": [0.002,0.003,0.004,0.005,0.006,0.007,0.008,0.009,0.02,0.03,0.04,0.05,0.06,0.07,0.08,0.09,0.2,0.3,0.4,0.5,0.6,0.7,0.8,0.9], "tickSize": 5, "labels": false, "domain": false, "title": null}}}},
  {"data": {"name": "p2"}, "mark": {"type": "line", "color": "black", "strokeWidth": 1.8, "interpolate": "monotone"},
   "encoding": {"y": {"field": "a", "type": "quantitative", "scale": {"type": "log", "domain": [0.001, 2], "nice": false}, "axis": null}}},
  {"data": {"name": "p2"}, "mark": {"type": "line", "color": "black", "strokeWidth": 1.8, "interpolate": "monotone"},
   "encoding": {"y": {"field": "b", "type": "quantitative", "scale": {"type": "log", "domain": [0.001, 2], "nice": false}, "axis": null}}},
  {"data": {"values": [{"x": 24.13, "y": 0.00306, "txt": "S"}, {"x": 25.87, "y": 0.00306, "txt": "= 0.05 m"}, {"x": 24.13, "y": 0.00183, "txt": "L"}, {"x": 25.28, "y": 0.00183, "txt": "= 100 mm"}]},
   "mark": {"type": "text", "align": "left", "baseline": "middle", "fontSize": 18, "fontStyle": "italic", "fontWeight": "bold"},
   "encoding": {
    "y": {"field": "y", "type": "quantitative", "scale": {"type": "log", "domain": [0.001, 2], "nice": false}, "axis": null},
    "text": {"field": "txt"}}},
  {"data": {"values": [{"x": 24.63, "y": 0.00306, "txt": "D2S"}, {"x": 24.70, "y": 0.00183, "txt": "S"}]},
   "mark": {"type": "text", "align": "left", "baseline": "middle", "fontSize": 13, "fontStyle": "italic", "fontWeight": "bold", "dy": 5},
   "encoding": {
    "y": {"field": "y", "type": "quantitative", "scale": {"type": "log", "domain": [0.001, 2], "nice": false}, "axis": null},
    "text": {"field": "txt"}}}
 ]
},
{
 "width": 362, "height": 354,
 "resolve": {"axis": {"y": "independent"}},
 "encoding": {"x": {"field": "x", "type": "quantitative", "scale": {"domain": [12, 30], "nice": false, "zero": false}, "axis": {"orient": "bottom", "values": [12,14,16,18,20,22,24,26,28,30], "labels": false, "tickSize": 5, "title": null}}},
 "layer": [
  {"data": {"name": "p3"}, "mark": {"type": "point", "shape": "triangle-up", "filled": false, "stroke": "#4a4a4a", "strokeWidth": 1, "size": 95, "opacity": 0.9},
   "encoding": {
    "y": {"field": "t", "type": "quantitative", "scale": {"type": "log", "domain": [0.001, 2], "nice": false}, "axis": {"orient": "left", "values": [0.001,0.01,0.1,1], "tickSize": 11, "labelExpr": "datum.value > 0.5 ? '1' : datum.value > 0.05 ? '10⁻¹' : datum.value > 0.005 ? '10⁻²' : '10⁻³'", "labelAlign": "center", "labelBaseline": "middle", "labelPadding": 26, "labelFontSize": 16, "title": "Reflectivity", "titleFont": "Liberation Serif", "titleFontSize": 27, "titleX": -86, "titleY": 177, "titleAngle": 270, "titleBaseline": "middle", "titleAlign": "center"}}}},
  {"data": {"name": "p3"}, "mark": {"type": "point", "shape": "circle", "filled": false, "stroke": "#6a6a6a", "strokeWidth": 1, "size": 115, "opacity": 0.9},
   "encoding": {
    "y": {"field": "c", "type": "quantitative", "scale": {"type": "log", "domain": [0.001, 2], "nice": false}, "axis": {"orient": "left", "values": [0.002,0.003,0.004,0.005,0.006,0.007,0.008,0.009,0.02,0.03,0.04,0.05,0.06,0.07,0.08,0.09,0.2,0.3,0.4,0.5,0.6,0.7,0.8,0.9], "tickSize": 5, "labels": false, "domain": false, "title": null}}}},
  {"data": {"name": "p3"}, "mark": {"type": "line", "color": "black", "strokeWidth": 1.8, "interpolate": "monotone"},
   "encoding": {"y": {"field": "a", "type": "quantitative", "scale": {"type": "log", "domain": [0.001, 2], "nice": false}, "axis": null}}},
  {"data": {"name": "p3"}, "mark": {"type": "line", "color": "black", "strokeWidth": 1.8, "interpolate": "monotone"},
   "encoding": {"y": {"field": "b", "type": "quantitative", "scale": {"type": "log", "domain": [0.001, 2], "nice": false}, "axis": null}}},
  {"data": {"values": [{"x": 24.18, "y": 0.00252, "txt": "S"}, {"x": 26.27, "y": 0.00252, "txt": "= 0.5 m"}, {"x": 24.18, "y": 0.00154, "txt": "L"}, {"x": 25.43, "y": 0.00154, "txt": "= 20 mm"}]},
   "mark": {"type": "text", "align": "left", "baseline": "middle", "fontSize": 18, "fontStyle": "italic", "fontWeight": "bold"},
   "encoding": {
    "y": {"field": "y", "type": "quantitative", "scale": {"type": "log", "domain": [0.001, 2], "nice": false}, "axis": null},
    "text": {"field": "txt"}}},
  {"data": {"values": [{"x": 24.78, "y": 0.00252, "txt": "D2S"}, {"x": 24.83, "y": 0.00154, "txt": "S"}]},
   "mark": {"type": "text", "align": "left", "baseline": "middle", "fontSize": 14, "fontStyle": "italic", "fontWeight": "bold", "dy": 5},
   "encoding": {
    "y": {"field": "y", "type": "quantitative", "scale": {"type": "log", "domain": [0.001, 2], "nice": false}, "axis": null},
    "text": {"field": "txt"}}}
 ]
},
{
 "width": 362, "height": 354,
 "resolve": {"scale": {"y": "independent"}, "axis": {"y": "independent"}},
 "encoding": {"x": {"field": "x", "type": "quantitative", "scale": {"domain": [12, 30], "nice": false, "zero": false}, "axis": {"orient": "bottom", "values": [12,14,16,18,20,22,24,26,28,30], "labels": false, "tickSize": 5, "title": null}}},
 "layer": [
  {"data": {"values": [{"x": 30.95, "x2": 49.4, "line": 0.2, "line2": 12.63}]},
   "mark": {"type": "rect", "color": "#99CCFF"},
   "encoding": {
    "x2": {"field": "x2"},
    "y": {"field": "line", "type": "quantitative", "scale": {"domain": [0.8667, 12.6667], "reverse": true, "nice": false, "zero": false}, "axis": null},
    "y2": {"field": "line2"}}},
  {"data": {"values": [
    {"x": 35.57, "line": 1, "txt": "The"}, {"x": 37.97, "line": 1, "txt": "reflectivities"}, {"x": 44.93, "line": 1, "txt": "for"},
    {"x": 31.67, "line": 2, "txt": "sample"}, {"x": 35.77, "line": 2, "txt": "lengths"}, {"x": 39.96, "line": 2, "txt": "and"}, {"x": 42.28, "line": 2, "txt": "three"},
    {"x": 31.67, "line": 3, "txt": "positions"}, {"x": 37.36, "line": 3, "txt": "with"}, {"x": 40.67, "line": 3, "txt": "respect"}, {"x": 44.88, "line": 3, "txt": "to"},
    {"x": 31.67, "line": 4, "txt": "second"}, {"x": 35.57, "line": 4, "txt": "slit."}, {"x": 38.39, "line": 4, "txt": "The"}, {"x": 41.12, "line": 4, "txt": "solid"}, {"x": 43.86, "line": 4, "txt": "lines"},
    {"x": 31.67, "line": 5, "txt": "the"}, {"x": 33.83, "line": 5, "txt": "theoretical"}, {"x": 39.96, "line": 5, "txt": "calculations,"},
    {"x": 31.67, "line": 6, "txt": "the"}, {"x": 33.83, "line": 6, "txt": "triangles"}, {"x": 38.85, "line": 6, "txt": "and"}, {"x": 41.21, "line": 6, "txt": "circles"}, {"x": 45.02, "line": 6, "txt": "are"},
    {"x": 31.67, "line": 7, "txt": "Monte-Carlo"},
    {"x": 31.67, "line": 8, "txt": "prepared"}, {"x": 37.14, "line": 8, "txt": "by"}, {"x": 38.60, "line": 8, "txt": "the"}, {"x": 40.46, "line": 8, "txt": "VITESS"},
    {"x": 31.67, "line": 9, "txt": "with"}, {"x": 34.58, "line": 9, "txt": "zero"}, {"x": 37.23, "line": 9, "txt": "and"}, {"x": 40.13, "line": 9, "txt": "non-zero"},
    {"x": 31.67, "line": 10, "txt": "respectively."}, {"x": 39.88, "line": 10, "txt": "All"}, {"x": 43.19, "line": 10, "txt": "plots"},
    {"x": 31.67, "line": 11, "txt": "represented"}, {"x": 38.06, "line": 11, "txt": "from"}, {"x": 40.79, "line": 11, "txt": "12"}, {"x": 42.53, "line": 11, "txt": "Å"}, {"x": 43.86, "line": 11, "txt": "where"},
    {"x": 31.67, "line": 12, "txt": "curves are distinguishable."}
   ]},
   "mark": {"type": "text", "align": "left", "baseline": "middle", "fontSize": 24.5},
   "encoding": {
    "y": {"field": "line", "type": "quantitative", "scale": {"domain": [0.8667, 12.6667], "reverse": true, "nice": false, "zero": false}, "axis": null},
    "text": {"field": "txt"}}},
  {"data": {"values": [
    {"x": 48.9, "line": 1, "txt": "two"}, {"x": 48.9, "line": 2, "txt": "sample"}, {"x": 48.9, "line": 3, "txt": "the"}, {"x": 48.9, "line": 4, "txt": "are"},
    {"x": 48.9, "line": 5, "txt": "and"}, {"x": 48.9, "line": 6, "txt": "the"}, {"x": 48.9, "line": 7, "txt": "simulations"}, {"x": 48.9, "line": 8, "txt": "package"},
    {"x": 48.9, "line": 9, "txt": "gravity"}, {"x": 48.9, "line": 10, "txt": "are"}, {"x": 48.9, "line": 11, "txt": "all"}
   ]},
   "mark": {"type": "text", "align": "right", "baseline": "middle", "fontSize": 24.5},
   "encoding": {
    "y": {"field": "line", "type": "quantitative", "scale": {"domain": [0.8667, 12.6667], "reverse": true, "nice": false, "zero": false}, "axis": null},
    "text": {"field": "txt"}}},
  {"data": {"values": [{"x": 31.67, "line": 1, "txt": "Fig. 1."}]},
   "mark": {"type": "text", "align": "left", "baseline": "middle", "fontSize": 24.5, "fontWeight": "bold"},
   "encoding": {
    "y": {"field": "line", "type": "quantitative", "scale": {"domain": [0.8667, 12.6667], "reverse": true, "nice": false, "zero": false}, "axis": null},
    "text": {"field": "txt"}}},
  {"data": {"name": "p4"}, "mark": {"type": "point", "shape": "triangle-up", "filled": false, "stroke": "#4a4a4a", "strokeWidth": 1, "size": 95, "opacity": 0.9},
   "encoding": {
    "y": {"field": "t", "type": "quantitative", "scale": {"type": "log", "domain": [0.001, 2], "nice": false}, "axis": {"orient": "left", "values": [0.001,0.01,0.1,1], "tickSize": 11, "labels": false, "title": null}}}},
  {"data": {"name": "p4"}, "mark": {"type": "point", "shape": "circle", "filled": false, "stroke": "#6a6a6a", "strokeWidth": 1, "size": 115, "opacity": 0.9},
   "encoding": {
    "y": {"field": "c", "type": "quantitative", "scale": {"type": "log", "domain": [0.001, 2], "nice": false}, "axis": {"orient": "left", "values": [0.002,0.003,0.004,0.005,0.006,0.007,0.008,0.009,0.02,0.03,0.04,0.05,0.06,0.07,0.08,0.09,0.2,0.3,0.4,0.5,0.6,0.7,0.8,0.9], "tickSize": 5, "labels": false, "domain": false, "title": null}}}},
  {"data": {"name": "p4"}, "mark": {"type": "line", "color": "black", "strokeWidth": 1.8, "interpolate": "monotone"},
   "encoding": {"y": {"field": "a", "type": "quantitative", "scale": {"type": "log", "domain": [0.001, 2], "nice": false}, "axis": null}}},
  {"data": {"name": "p4"}, "mark": {"type": "line", "color": "black", "strokeWidth": 1.8, "interpolate": "monotone"},
   "encoding": {"y": {"field": "b", "type": "quantitative", "scale": {"type": "log", "domain": [0.001, 2], "nice": false}, "axis": null}}},
  {"data": {"values": [{"x": 24.53, "y": 0.00293, "txt": "S"}, {"x": 26.37, "y": 0.00293, "txt": "= 0.5 m"}, {"x": 24.53, "y": 0.00179, "txt": "L"}, {"x": 25.72, "y": 0.00179, "txt": "= 100 mm"}]},
   "mark": {"type": "text", "align": "left", "baseline": "middle", "fontSize": 18, "fontStyle": "italic", "fontWeight": "bold"},
   "encoding": {
    "y": {"field": "y", "type": "quantitative", "scale": {"type": "log", "domain": [0.001, 2], "nice": false}, "axis": null},
    "text": {"field": "txt"}}},
  {"data": {"values": [{"x": 25.08, "y": 0.00293, "txt": "D2S"}, {"x": 25.13, "y": 0.00179, "txt": "S"}]},
   "mark": {"type": "text", "align": "left", "baseline": "middle", "fontSize": 14, "fontStyle": "italic", "fontWeight": "bold", "dy": 5},
   "encoding": {
    "y": {"field": "y", "type": "quantitative", "scale": {"type": "log", "domain": [0.001, 2], "nice": false}, "axis": null},
    "text": {"field": "txt"}}}
 ]
},
{
 "width": 362, "height": 354,
 "resolve": {"axis": {"y": "independent"}},
 "encoding": {"x": {"field": "x", "type": "quantitative", "scale": {"domain": [12, 30], "nice": false, "zero": false}, "axis": {"orient": "bottom", "values": [12,14,16,18,20,22,24,26,28,30], "tickSize": 5, "labelFont": "Liberation Sans", "labelFontSize": 16, "labelPadding": 6, "title": "Wavelength, Å", "titleFont": "DejaVu Serif", "titleFontSize": 20, "titleX": 390, "titleY": 58, "titleBaseline": "middle", "titleAlign": "center"}}},
 "layer": [
  {"data": {"name": "p5"}, "mark": {"type": "point", "shape": "triangle-up", "filled": false, "stroke": "#4a4a4a", "strokeWidth": 1, "size": 95, "opacity": 0.9},
   "encoding": {
    "y": {"field": "t", "type": "quantitative", "scale": {"type": "log", "domain": [0.001, 2], "nice": false}, "axis": {"orient": "left", "values": [0.001,0.01,0.1,1], "tickSize": 11, "labelExpr": "datum.value > 0.5 ? '1' : datum.value > 0.05 ? '10⁻¹' : datum.value > 0.005 ? '10⁻²' : '10⁻³'", "labelAlign": "center", "labelBaseline": "middle", "labelPadding": 26, "labelFontSize": 16, "title": null}}}},
  {"data": {"name": "p5"}, "mark": {"type": "point", "shape": "circle", "filled": false, "stroke": "#6a6a6a", "strokeWidth": 1, "size": 115, "opacity": 0.9},
   "encoding": {
    "y": {"field": "c", "type": "quantitative", "scale": {"type": "log", "domain": [0.001, 2], "nice": false}, "axis": {"orient": "left", "values": [0.002,0.003,0.004,0.005,0.006,0.007,0.008,0.009,0.02,0.03,0.04,0.05,0.06,0.07,0.08,0.09,0.2,0.3,0.4,0.5,0.6,0.7,0.8,0.9], "tickSize": 5, "labels": false, "domain": false, "title": null}}}},
  {"data": {"name": "p5"}, "mark": {"type": "line", "color": "black", "strokeWidth": 1.8, "interpolate": "monotone"},
   "encoding": {"y": {"field": "a", "type": "quantitative", "scale": {"type": "log", "domain": [0.001, 2], "nice": false}, "axis": null}}},
  {"data": {"name": "p5"}, "mark": {"type": "line", "color": "black", "strokeWidth": 1.8, "interpolate": "monotone"},
   "encoding": {"y": {"field": "b", "type": "quantitative", "scale": {"type": "log", "domain": [0.001, 2], "nice": false}, "axis": null}}},
  {"data": {"values": [{"x": 24.18, "y": 0.00286, "txt": "S"}, {"x": 26.27, "y": 0.00286, "txt": "= 1 m"}, {"x": 24.18, "y": 0.00175, "txt": "L"}, {"x": 25.48, "y": 0.00175, "txt": "= 20 mm"}]},
   "mark": {"type": "text", "align": "left", "baseline": "middle", "fontSize": 18, "fontStyle": "italic", "fontWeight": "bold"},
   "encoding": {
    "y": {"field": "y", "type": "quantitative", "scale": {"type": "log", "domain": [0.001, 2], "nice": false}, "axis": null},
    "text": {"field": "txt"}}},
  {"data": {"values": [{"x": 24.73, "y": 0.00286, "txt": "D2S"}, {"x": 24.83, "y": 0.00175, "txt": "S"}]},
   "mark": {"type": "text", "align": "left", "baseline": "middle", "fontSize": 14, "fontStyle": "italic", "fontWeight": "bold", "dy": 5},
   "encoding": {
    "y": {"field": "y", "type": "quantitative", "scale": {"type": "log", "domain": [0.001, 2], "nice": false}, "axis": null},
    "text": {"field": "txt"}}}
 ]
},
{
 "width": 362, "height": 354,
 "resolve": {"axis": {"y": "independent"}},
 "encoding": {"x": {"field": "x", "type": "quantitative", "scale": {"domain": [12, 30], "nice": false, "zero": false}, "axis": {"orient": "bottom", "values": [12,14,16,18,20,22,24,26,28,30], "tickSize": 5, "labelFont": "Liberation Serif", "labelFontSize": 16, "labelPadding": 6, "title": null}}},
 "layer": [
  {"data": {"name": "p6"}, "mark": {"type": "point", "shape": "triangle-up", "filled": false, "stroke": "#4a4a4a", "strokeWidth": 1, "size": 95, "opacity": 0.9},
   "encoding": {
    "y": {"field": "t", "type": "quantitative", "scale": {"type": "log", "domain": [0.001, 2], "nice": false}, "axis": {"orient": "left", "values": [0.001,0.01,0.1,1], "tickSize": 11, "labels": false, "title": null}}}},
  {"data": {"name": "p6"}, "mark": {"type": "point", "shape": "circle", "filled": false, "stroke": "#6a6a6a", "strokeWidth": 1, "size": 115, "opacity": 0.9},
   "encoding": {
    "y": {"field": "c", "type": "quantitative", "scale": {"type": "log", "domain": [0.001, 2], "nice": false}, "axis": {"orient": "left", "values": [0.002,0.003,0.004,0.005,0.006,0.007,0.008,0.009,0.02,0.03,0.04,0.05,0.06,0.07,0.08,0.09,0.2,0.3,0.4,0.5,0.6,0.7,0.8,0.9], "tickSize": 5, "labels": false, "domain": false, "title": null}}}},
  {"data": {"name": "p6"}, "mark": {"type": "line", "color": "black", "strokeWidth": 1.8, "interpolate": "monotone"},
   "encoding": {"y": {"field": "a", "type": "quantitative", "scale": {"type": "log", "domain": [0.001, 2], "nice": false}, "axis": null}}},
  {"data": {"name": "p6"}, "mark": {"type": "line", "color": "black", "strokeWidth": 1.8, "interpolate": "monotone"},
   "encoding": {"y": {"field": "b", "type": "quantitative", "scale": {"type": "log", "domain": [0.001, 2], "nice": false}, "axis": null}}},
  {"data": {"values": [{"x": 24.63, "y": 0.00299, "txt": "S"}, {"x": 26.37, "y": 0.00299, "txt": "= 1 m"}, {"x": 24.63, "y": 0.00179, "txt": "L"}, {"x": 25.72, "y": 0.00179, "txt": "= 100 mm"}]},
   "mark": {"type": "text", "align": "left", "baseline": "middle", "fontSize": 18, "fontStyle": "italic", "fontWeight": "bold"},
   "encoding": {
    "y": {"field": "y", "type": "quantitative", "scale": {"type": "log", "domain": [0.001, 2], "nice": false}, "axis": null},
    "text": {"field": "txt"}}},
  {"data": {"values": [{"x": 25.18, "y": 0.00299, "txt": "D2S"}, {"x": 25.23, "y": 0.00179, "txt": "S"}]},
   "mark": {"type": "text", "align": "left", "baseline": "middle", "fontSize": 14, "fontStyle": "italic", "fontWeight": "bold", "dy": 5},
   "encoding": {
    "y": {"field": "y", "type": "quantitative", "scale": {"type": "log", "domain": [0.001, 2], "nice": false}, "axis": null},
    "text": {"field": "txt"}}}
 ]
}
]
}
